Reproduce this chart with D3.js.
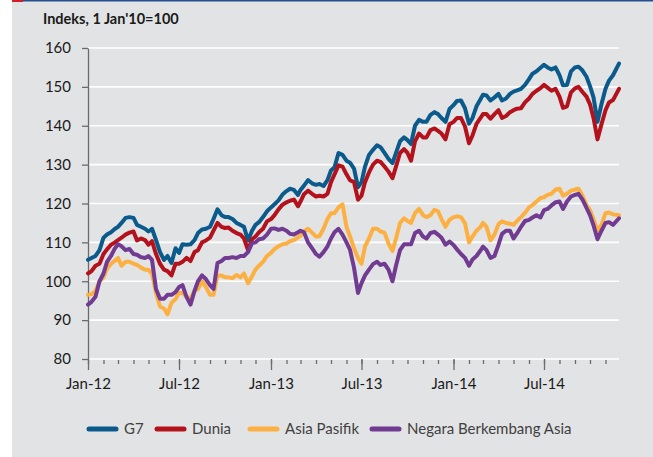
<!DOCTYPE html>
<html>
<head>
<meta charset="utf-8">
<script src="https://cdn.jsdelivr.net/npm/d3@7"></script>
<style>
  body { margin: 0; background: #ffffff; }
  #chart text { font-family: Lato, "Open Sans", sans-serif; }
</style>
</head>
<body>
<div id="chart"></div>
<script>
// data, roughly weekly readings of the index (1 Jan'10 = 100)
var dates = [
    "2012-01-01","2012-01-08","2012-01-16","2012-01-24", "2012-02-01","2012-02-08","2012-02-16","2012-02-24",
    "2012-03-01","2012-03-08","2012-03-16","2012-03-24", "2012-04-01","2012-04-08","2012-04-16","2012-04-24",
    "2012-05-01","2012-05-08","2012-05-16","2012-05-24", "2012-06-01","2012-06-08","2012-06-16","2012-06-24",
    "2012-07-01","2012-07-08","2012-07-16","2012-07-24", "2012-08-01","2012-08-08","2012-08-16","2012-08-24",
    "2012-09-01","2012-09-08","2012-09-16","2012-09-24", "2012-10-01","2012-10-08","2012-10-16","2012-10-24",
    "2012-11-01","2012-11-08","2012-11-16","2012-11-24", "2012-12-01","2012-12-08","2012-12-16","2012-12-24",
    "2013-01-01","2013-01-08","2013-01-16","2013-01-24", "2013-02-01","2013-02-08","2013-02-16","2013-02-24",
    "2013-03-01","2013-03-08","2013-03-16","2013-03-24", "2013-04-01","2013-04-08","2013-04-16","2013-04-24",
    "2013-05-01","2013-05-08","2013-05-16","2013-05-24", "2013-06-01","2013-06-08","2013-06-16","2013-06-24",
    "2013-07-01","2013-07-08","2013-07-16","2013-07-24", "2013-08-01","2013-08-08","2013-08-16","2013-08-24",
    "2013-09-01","2013-09-08","2013-09-16","2013-09-24", "2013-10-01","2013-10-08","2013-10-16","2013-10-24",
    "2013-11-01","2013-11-08","2013-11-16","2013-11-24", "2013-12-01","2013-12-08","2013-12-16","2013-12-24",
    "2014-01-01","2014-01-08","2014-01-16","2014-01-24", "2014-02-01","2014-02-08","2014-02-16","2014-02-24",
    "2014-03-01","2014-03-08","2014-03-16","2014-03-24", "2014-04-01","2014-04-08","2014-04-16","2014-04-24",
    "2014-05-01","2014-05-08","2014-05-16","2014-05-24", "2014-06-01","2014-06-08","2014-06-16","2014-06-24",
    "2014-07-01","2014-07-08","2014-07-16","2014-07-24", "2014-08-01","2014-08-08","2014-08-16","2014-08-24",
    "2014-09-01","2014-09-08","2014-09-16","2014-09-24", "2014-10-01","2014-10-08","2014-10-16","2014-10-24",
    "2014-11-01","2014-11-08","2014-11-16","2014-11-28"
];

var g7 = [
    105.5, 106, 106.5, 108,   111.2, 112, 112.6, 113.5,   114, 115, 116.3, 116.5,   116.3, 114.5, 114, 113.5,
    112.8, 113.5, 110.6, 107.5,   105.5, 106.5, 104.7, 108.5,   107.3, 109.5, 109.4, 109.5,   110.6, 112.4, 113.3, 113.5,
    114, 116, 118.5, 117,   116.5, 116.5, 116, 115,   114.5, 114, 110.5, 113,   114.5, 115.2, 116.5, 118,
    119, 119.8, 120.8, 122.3,   123.2, 123.8, 123.5, 122.2,   123.5, 124.6, 126, 125.2,   124.8, 125, 124.5, 126,
    128.5, 129.3, 133, 132.5,   131, 130.5, 129, 124.2,   125.5, 129.5, 132.5, 133.8,   135, 134.5, 133, 131.5,
    130.4, 133, 136, 137,   136.3, 135.3, 140, 141.5,   141, 141, 142.8, 143.5,   143, 142, 141, 144.3,
    145.3, 146.4, 146.5, 144.5,   140.5, 142, 145, 146.8,   148, 147.8, 146.5, 147.3,   148.2, 146.5, 147, 148.2,
    148.8, 149.1, 149.5, 150.5,   152, 153.4, 154, 154.9,   155.7, 155, 154.5, 155,   153, 150.4, 150.5, 154,
    155, 155.2, 154.2, 152.6,   150.2, 147.3, 141, 145.6,   149.5, 151.6, 153, 156];

var dunia = [
    102, 102.6, 104, 104.5,   107, 108.2, 109.4, 110,   110.6, 111.2, 112, 112.5,   112.8, 110.5, 111, 110.6,
    109.4, 110.3, 107, 104.5,   103, 102.6, 101.5, 104.5,   104.5, 105, 106, 105.2,   107.5, 108, 110, 110.5,
    111.2, 113, 115, 114,   113.7, 113.8, 113, 112.4,   112, 111, 108, 110.8,   111.5, 112.6, 113.5, 115.4,
    116, 117, 118.5, 119.7,   120.3, 120.7, 121, 119.3,   120.5, 122.4, 123.3, 122.5,   121.8, 122, 121.8, 122.5,
    125.5, 127.5, 129.8, 129.5,   127.5, 126, 125.5, 121,   122, 125.5, 128, 130,   131, 130.7, 129.5, 128.2,
    126.5, 129.5, 133, 134,   133, 131, 136, 138,   137, 137, 138.9, 139.3,   138.7, 138, 136.5, 140.4,
    141, 142, 142, 139.8,   135.5, 137.5, 140.5, 142,   143, 143, 141.8, 143,   144, 142, 142.5, 143.5,
    144, 144.4, 144.5, 146,   147, 148.2, 149, 149.7,   150.5, 149.8, 149, 149.5,   147.5, 144.6, 145, 148.6,
    149.6, 150, 148.7, 147.5,   145.5, 142, 136.5, 140.4,   144, 146, 146.6, 149.5];

var asiaPasifik = [
    96.5, 96.7, 97.5, 100,   101, 103.2, 104.5, 105.3,   106, 104, 105, 105,   104.5, 104.2, 103.5, 103,
    102.9, 102, 97, 93.5,   93, 91.5, 94.5, 95.4,   97, 97, 96, 95.6,   97.5, 98, 100, 98.5,
    96.5, 96.5, 101.5, 101.5,   101, 101, 100.8, 101.6,   101, 102, 99.5, 101.3,   103, 104, 105, 106.5,
    107.3, 108.3, 109, 109.5,   109.7, 110.3, 110.6, 111.3,   111.7, 112.8, 113.5, 112.5,   111.5, 111.6, 113.5, 116,
    117.5, 117.5, 119, 119.8,   114, 111.5, 108.5, 106,   104.5, 109, 111, 113.5,   113.5, 112.8, 112.5, 109.7,
    107.8, 111, 115, 116.2,   115.5, 115, 117.5, 118.6,   117, 116.5, 117, 118.4,   118, 116, 114, 115.8,
    116.5, 116.7, 116.5, 114.9,   110, 111.5, 113, 114,   115, 114, 110.5, 112,   114.7, 115.4, 115, 114.8,
    114.5, 115.5, 116.5, 117.6,   119, 119.6, 120.5, 121.4,   121.6, 122.2, 122.5, 123.6,   123.8, 122, 122.5, 123.3,
    123.6, 123.8, 122, 119.6,   118.3, 116, 113, 114.5,   117.5, 117.7, 117.2, 117];

var negaraBerkembang = [
    94, 94.7, 96, 100,   102, 105, 106.5, 108.5,   109.5, 109, 108, 108.3,   107, 106.8, 106.2, 106,
    106.5, 105.5, 98, 95.5,   95.5, 96.5, 96.5, 97.2,   98.5, 99, 96, 94,   97.5, 100, 101.5, 100.5,
    99, 98, 104.7, 105.2,   106, 106, 106.2, 106,   106.5, 106.5, 107.5, 109.8,   110, 110.8, 111, 112,
    113.5, 113.6, 113.2, 113.5,   113, 112.2, 112, 112.6,   113, 112.6, 110, 108.5,   107, 106.3, 107.5, 109,
    111, 112.6, 113.5, 112,   110, 108.1, 103.5, 97,   99.5, 101.5, 103, 104.4,   105, 104.2, 104.5, 103,
    100, 104, 108, 109.5,   109.5, 109.5, 112.4, 113,   111.5, 111, 112.4, 112.7,   112, 111.2, 109.4, 110.2,
    109.3, 108.2, 107, 106,   104, 105.6, 106.5, 107.9,   108.9, 108, 106, 106.5,   109.4, 112.2, 113, 113,
    111, 112.3, 114, 115.5,   115.8, 116.4, 117, 116.4,   118.3, 118.6, 119.5, 120.3,   120.5, 118.6, 120.5, 121.8,
    122.2, 122.5, 121, 118.9,   117, 114.4, 110.8, 113,   115, 115.2, 114.5, 116.2];

var seriesNames = ["G7", "Dunia", "Asia Pasifik", "Negara Berkembang Asia"];
var seriesValues = [g7, dunia, asiaPasifik, negaraBerkembang];
var seriesColors = ["#0b5a8c", "#b3121c", "#fdb042", "#713b91"];
var yTicks = [80, 90, 100, 110, 120, 130, 140, 150, 160];
var xLabelDates = ["2012-01-01", "2012-07-01", "2013-01-01", "2013-07-01", "2014-01-01", "2014-07-01"];
var xDomain = ["2012-01-01", "2014-11-28"];

var parseDate = d3.utcParse("%Y-%m-%d");
var monthFormat = d3.utcFormat("%b-%y");

var width = 653;
var height = 457;
var margin = { top: 48, right: 34, bottom: 98, left: 88 };
var boundedWidth = width - margin.left - margin.right;
var boundedHeight = height - margin.top - margin.bottom;

var svg = d3.select("#chart").append("svg")
    .attr("width", width)
    .attr("height", height);

// grey panel + top rule
svg.append("rect")
    .attr("x", 12).attr("y", 0)
    .attr("width", width - 12).attr("height", height)
    .attr("fill", "#e2e3e5");
svg.append("rect")
    .attr("x", 23).attr("y", 0)
    .attr("width", width - 23).attr("height", 1.5)
    .attr("fill", "#244f8f");
svg.append("rect")
    .attr("x", 12).attr("y", 0)
    .attr("width", 11).attr("height", 2)
    .attr("fill", "#d01f2a");

svg.append("text")
    .attr("x", 43).attr("y", 24)
    .attr("font-size", 14.5)
    .attr("font-weight", "bold")
    .attr("fill", "#1a1a1a")
    .text("Indeks, 1 Jan'10=100");

var bounds = svg.append("g")
    .attr("transform", `translate(${margin.left}, ${margin.top})`);

var xScale = d3.scaleUtc()
    .domain(xDomain.map(parseDate))
    .range([0, boundedWidth]);

var yScale = d3.scaleLinear()
    .domain([80, 160])
    .range([boundedHeight, 0]);

// gridlines
bounds.selectAll(".grid")
    .data(yTicks).enter()
    .append("line")
    .attr("class", "grid")
    .attr("x1", 0).attr("x2", boundedWidth)
    .attr("y1", d => yScale(d)).attr("y2", d => yScale(d))
    .attr("stroke", "#ffffff")
    .attr("stroke-width", 1.6);

// x axis: monthly minor ticks, half-year major ticks
var minorAxis = d3.axisBottom(xScale)
    .tickValues(d3.utcMonth.range(parseDate("2012-01-01"), parseDate("2014-11-28")))
    .tickSize(4)
    .tickFormat("");

bounds.append("g")
    .attr("class", "x-minor")
    .attr("transform", `translate(0, ${boundedHeight + 1})`)
    .call(minorAxis)
    .call(g => g.select(".domain").remove())
    .call(g => g.selectAll("line").attr("stroke", "#6b6b6b").attr("stroke-width", 1.3));

var majorAxis = d3.axisBottom(xScale)
    .tickValues(xLabelDates.map(parseDate))
    .tickSize(11)
    .tickPadding(8)
    .tickFormat(monthFormat);

bounds.append("g")
    .attr("class", "x-major")
    .attr("transform", `translate(0, ${boundedHeight})`)
    .call(majorAxis)
    .call(g => g.select(".domain").remove())
    .call(g => g.selectAll("line").attr("stroke", "#6b6b6b").attr("stroke-width", 1.3))
    .call(g => g.selectAll("text")
        .attr("font-size", 15)
        .attr("fill", "#1a1a1a")
        .attr("font-family", "Lato, sans-serif"));

// y axis
var yAxis = d3.axisLeft(yScale)
    .tickValues(yTicks)
    .tickSize(6)
    .tickSizeOuter(0)
    .tickPadding(11);

bounds.append("g")
    .attr("class", "y-axis")
    .call(yAxis)
    .call(g => g.select(".domain").attr("stroke", "#6b6b6b").attr("stroke-width", 1.3))
    .call(g => g.selectAll("line").attr("stroke", "#6b6b6b").attr("stroke-width", 1.3))
    .call(g => g.selectAll("text")
        .attr("font-size", 15)
        .attr("fill", "#1a1a1a")
        .attr("font-family", "Lato, sans-serif"));

// series lines
var line = d3.line()
    .x((d, i) => xScale(parseDate(dates[i])))
    .y(d => yScale(d));

bounds.selectAll(".series")
    .data(seriesValues).enter()
    .append("path")
    .attr("class", "series")
    .attr("d", d => line(d))
    .attr("fill", "none")
    .attr("stroke", (d, i) => seriesColors[i])
    .attr("stroke-width", 4)
    .attr("stroke-linejoin", "round")
    .attr("stroke-linecap", "round");

// legend
var legendX = [87, 155, 248, 370];
var legend = svg.selectAll(".legendItem")
    .data(seriesNames).enter()
    .append("g")
    .attr("class", "legendItem")
    .attr("transform", (d, i) => `translate(${legendX[i]}, 429)`);

legend.append("line")
    .attr("x1", 2).attr("x2", 29)
    .attr("y1", 0).attr("y2", 0)
    .attr("stroke", (d, i) => seriesColors[i])
    .attr("stroke-width", 5)
    .attr("stroke-linecap", "round");

legend.append("text")
    .attr("x", 37)
    .attr("y", 5)
    .attr("font-size", 15)
    .attr("fill", "#404040")
    .text(d => d);
</script>
</body>
</html>
